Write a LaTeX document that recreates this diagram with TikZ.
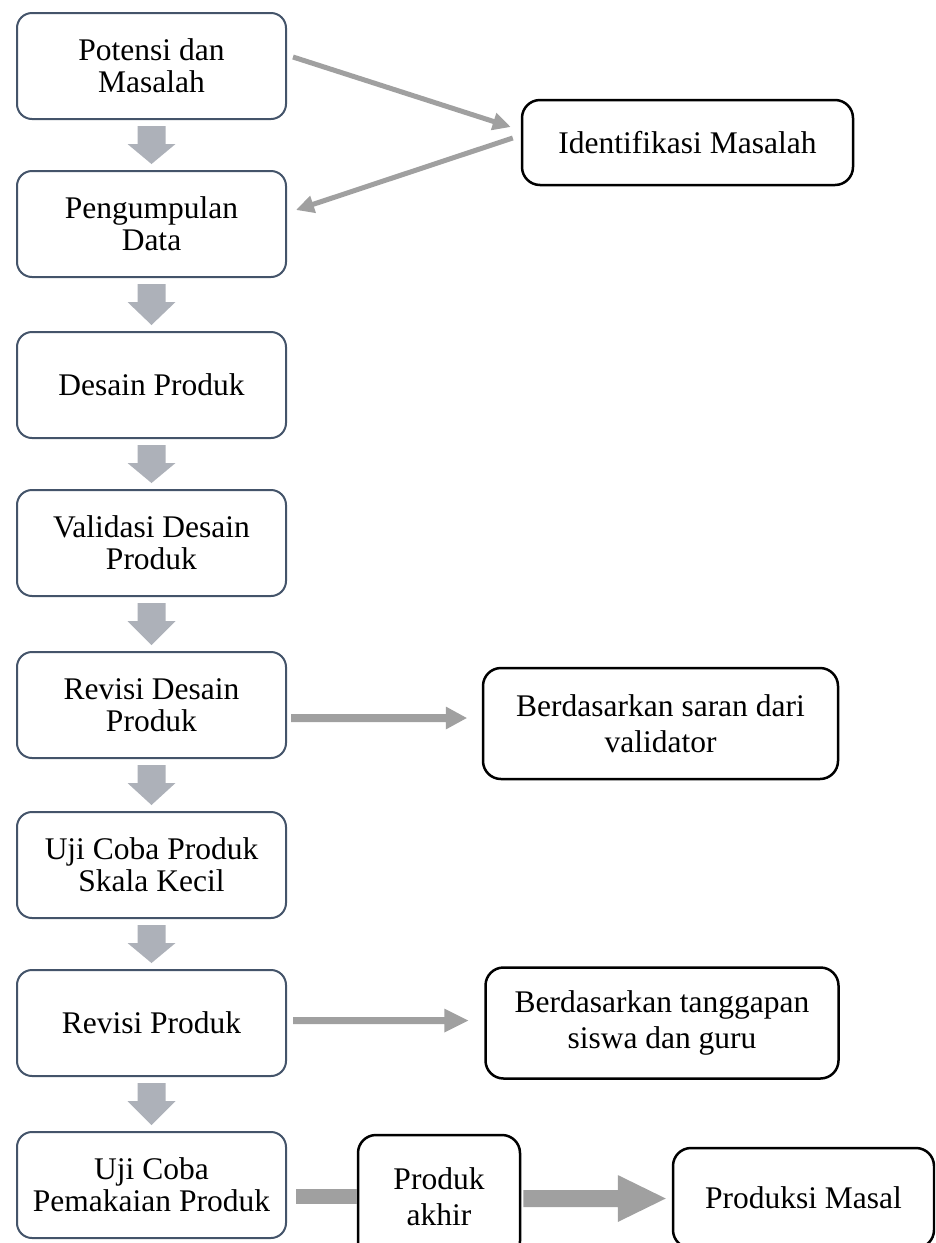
\documentclass[tikz,border=0pt]{standalone}
\usepackage{fontspec}
\setmainfont{Liberation Serif}
\usetikzlibrary{calc,arrows.meta}
\definecolor{leftborder}{RGB}{68,84,106}
\definecolor{downgray}{RGB}{173,177,185}
\definecolor{arrgray}{RGB}{160,160,160}
\newcommand{\hblock}[5]{%
  \fill[hfill] ($#1+(0,-#3)$) -- ($#2+(-#5,-#3)$) -- ($#2+(-#5,-#4)$) -- #2
    -- ($#2+(-#5,#4)$) -- ($#2+(-#5,#3)$) -- ($#1+(0,#3)$) -- cycle;}
\newcommand{\vblock}[2]{%
  \fill[vfill] ($(#1.south)+(-14,6)$) -- ($(#1.south)+(14,6)$) -- ($(#1.south)+(14,24)$)
    -- ($(#1.south)+(24,24)$) -- ($(#2.north)+(0,-6)$) -- ($(#1.south)+(-24,24)$)
    -- ($(#1.south)+(-14,24)$) -- cycle;}
\tikzset{
  txt/.style={font=\fontsize{31.5}{32}\selectfont, align=center, text=black, inner sep=0pt},
  leftbox/.style={txt, draw=leftborder, line width=2pt, fill=white, rounded corners=15pt,
    minimum width=269pt, minimum height=106pt},
  rightbox/.style={txt, font=\fontsize{31.5}{36}\selectfont, draw=black, line width=2.5pt,
    fill=white, rounded corners=18pt},
  vfill/.style={fill=downgray},
  hfill/.style={fill=arrgray},
  diag/.style={draw=arrgray, line width=5pt, -{Triangle[length=18pt,width=17pt]}},
}
\begin{document}
\begin{tikzpicture}[x=1pt,y=-1pt]
\useasboundingbox (0,0) rectangle (935,1243);
\clip (0,0) rectangle (935,1243);
% left column
\node[leftbox] (p1) at (151.5,66) {Potensi dan\\Masalah};
\node[leftbox] (p2) at (151.5,224) {Pengumpulan\\Data};
\node[leftbox] (p3) at (151.5,385) {Desain Produk};
\node[leftbox] (p4) at (151.5,543) {Validasi Desain\\Produk};
\node[leftbox] (p5) at (151.5,705) {Revisi Desain\\Produk};
\node[leftbox] (p6) at (151.5,865) {Uji Coba Produk\\Skala Kecil};
\node[leftbox] (p7) at (151.5,1023) {Revisi Produk};
\node[leftbox] (p8) at (151.5,1185) {Uji Coba\\Pemakaian Produk};
% right boxes
\node[rightbox, minimum width=331pt, minimum height=85pt] (ident) at (687.5,142.5) {Identifikasi Masalah};
\node[rightbox, minimum width=355pt, minimum height=111pt] (saran) at (660.5,723.5) {Berdasarkan saran dari\\validator};
\node[rightbox, minimum width=353pt, minimum height=111pt] (tang) at (662,1023) {Berdasarkan tanggapan\\siswa dan guru};
\node[rightbox, minimum width=162pt, minimum height=124pt] (akhir) at (439,1197) {Produk\\akhir};
\node[rightbox, minimum width=261pt, minimum height=100pt] (masal) at (803.5,1198) {Produksi Masal};
% down arrows
\vblock{p1}{p2}
\vblock{p2}{p3}
\vblock{p3}{p4}
\vblock{p4}{p5}
\vblock{p5}{p6}
\vblock{p6}{p7}
\vblock{p7}{p8}
% diagonal arrows
\draw[diag] ($(p1.east)+(6,-9)$) -- ($(ident.west)+(-10,-15.5)$);
\draw[diag] ($(ident.west)+(-8,-4.5)$) -- ($(p2.east)+(9,-14)$);
% horizontal block arrows
\coordinate (a1) at ($(p5.east)+(4,13)$);
\coordinate (b1) at ($(saran.west |- a1)+(-15,0)$);
\hblock{(a1)}{(b1)}{4}{11.5}{21}
\coordinate (a2) at ($(p7.east)+(6,-2.5)$);
\coordinate (b2) at ($(tang.west |- a2)+(-16,0)$);
\hblock{(a2)}{(b2)}{3.5}{12}{24}
\coordinate (a3) at ($(p8.east)+(9,11)$);
\coordinate (b3) at (akhir.west |- a3);
\fill[hfill] ($(a3)+(0,-7.5)$) rectangle ($(b3)+(0,7.5)$);
\coordinate (a4) at ($(akhir.east)+(2,1.5)$);
\coordinate (b4) at ($(masal.west |- a4)+(-6,0)$);
\hblock{(a4)}{(b4)}{8.5}{23.5}{48}
\end{tikzpicture}
\end{document}
